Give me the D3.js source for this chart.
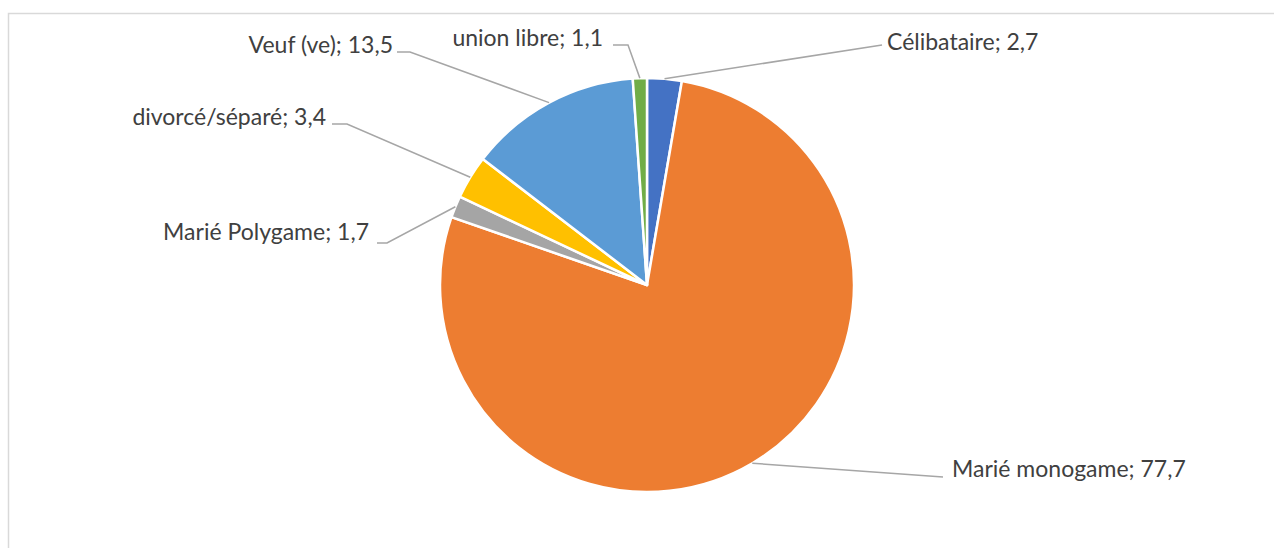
<!DOCTYPE html>
<html>
<head>
<meta charset="utf-8">
<script src="https://cdn.jsdelivr.net/npm/d3@7/dist/d3.min.js"></script>
<style>
  html, body { margin: 0; padding: 0; background: #fff; }
  svg { display: block; }
  .lbl { font-family: Lato, "Open Sans", sans-serif; font-size: 23px; fill: #404040; }
</style>
</head>
<body>
<svg id="chart" width="1274" height="548"></svg>
<script>
// Marital status distribution (%)
const categories = ["Célibataire", "Marié monogame", "Marié Polygame", "divorcé/séparé", "Veuf (ve)", "union libre"];
const values = [2.7, 77.7, 1.7, 3.4, 13.5, 1.1];
const colors = ["#4472C4", "#ED7D31", "#A5A5A5", "#FFC000", "#5B9BD5", "#70AD47"];

// Label placement: text anchor point, side, and the elbow of each leader line
const labelLayout = [
  { x: 887, y: 50, anchor: "start", elbow: null, tail: [882, 45] },
  { x: 952, y: 477, anchor: "start", elbow: null, tail: [943, 477] },
  { x: 369, y: 240, anchor: "end", elbow: [387, 243], tail: [377, 243] },
  { x: 326, y: 125, anchor: "end", elbow: [347, 124], tail: [332, 124] },
  { x: 393, y: 53, anchor: "end", elbow: [410, 52], tail: [397, 52] },
  { x: 603, y: 46, anchor: "end", elbow: [628, 45], tail: [613, 45] }
];

const svg = d3.select("#chart");
const cx = 647, cy = 285, R = 207;

// chart frame
svg.append("rect")
  .attr("x", 8.5).attr("y", 13.5)
  .attr("width", 1300).attr("height", 600)
  .attr("fill", "none").attr("stroke", "#D9D9D9").attr("stroke-width", 1.5);

const data = categories.map((c, i) => ({ name: c, value: values[i], color: colors[i], layout: labelLayout[i] }));

const pie = d3.pie().value(d => d.value).sort(null);
const arcs = pie(data);
const arc = d3.arc().innerRadius(0).outerRadius(R);
const edge = d3.arc().innerRadius(R).outerRadius(R);

const g = svg.append("g").attr("transform", `translate(${cx},${cy})`);

g.selectAll("path.slice")
  .data(arcs)
  .join("path")
  .attr("class", "slice")
  .attr("d", arc)
  .attr("fill", d => d.data.color)
  .attr("stroke", "#fff")
  .attr("stroke-width", 2.5)
  .attr("stroke-linejoin", "round");

// leader lines from each slice edge to its label
const line = d3.line();
svg.selectAll("path.leader")
  .data(arcs)
  .join("path")
  .attr("class", "leader")
  .attr("fill", "none")
  .attr("stroke", "#A6A6A6")
  .attr("stroke-width", 1.5)
  .attr("d", d => {
    const [ex, ey] = edge.centroid(d);
    const pts = [[cx + ex, cy + ey]];
    if (d.data.layout.elbow) pts.push(d.data.layout.elbow);
    pts.push(d.data.layout.tail);
    return line(pts);
  });

const fmt = v => String(v).replace(".", ",");
svg.selectAll("text.lbl")
  .data(arcs)
  .join("text")
  .attr("class", "lbl")
  .attr("x", d => d.data.layout.x)
  .attr("y", d => d.data.layout.y)
  .attr("text-anchor", d => d.data.layout.anchor)
  .text(d => `${d.data.name}; ${fmt(d.data.value)}`);
</script>
</body>
</html>
